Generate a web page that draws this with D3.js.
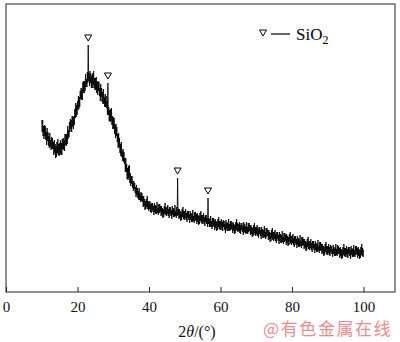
<!DOCTYPE html>
<html>
<head>
<meta charset="utf-8">
<script src="https://cdn.jsdelivr.net/npm/d3@7/dist/d3.min.js"></script>
<style>
  html, body { margin: 0; padding: 0; background: #fff; }
  svg { display: block; }
</style>
</head>
<body>
<script>
// XRD scan: 2θ from 10° to 100°, step 0.125°
const angleStart = 10, angleStep = 0.125;

// Measured intensity (a.u.), eight readings per degree
const intensity = [
  172,160,172,156,166,153,167,156, 166,152,160,147,164,151,160,146, // 10-11
  156,144,159,145,152,142,155,143, 154,143,150,137,152,139,148,134, // 12-13
  146,135,150,139,153,137,148,136, 149,138,152,137,149,137,153,143, // 14-15
  154,142,152,141,158,147,158,146, 158,148,166,153,162,155,170,160, // 16-17
  173,163,172,160,176,165,175,163, 176,167,183,174,189,175,187,177, // 18-19
  191,182,196,183,195,185,201,193, 204,192,203,192,210,199,211,199, // 20-21
  211,201,218,205,213,205,220,209, 247,211,219,206,221,209,218,204, // 22-23
  216,204,219,207,221,204,214,202, 214,202,215,199,210,197,211,201, // 24-25
  210,196,204,191,208,195,204,190, 200,188,203,188,195,185,198,185, // 26-27
  196,184,191,177,209,177,185,171, 182,170,183,171,184,167,176,163, // 28-29
  175,163,174,158,168,154,168,156, 165,150,158,144,159,145,154,139, // 30-31
  148,136,150,135,141,131,143,130, 140,128,134,120,134,120,128,113, // 32-33
  124,112,126,114,127,109,119,106, 116,108,116,104,111,101,111,103, // 34-35
  109,99,105,95,107,97,104,94,     101,92,104,92,98,90,100,91,      // 36-37
  99,90,96,85,96,86,93,82,         91,83,93,85,96,83,91,81,         // 38-39
  90,83,91,80,88,79,89,82,         89,80,86,77,89,80,87,78,         // 40-41
  86,78,90,79,84,77,88,79,         88,80,86,76,86,77,84,74,         // 42-43
  83,75,86,78,89,77,85,76,         85,78,87,76,83,74,85,78,         // 44-45
  85,76,82,73,86,77,84,75,         83,75,87,76,81,74,85,76,         // 46-47
  114,77,83,73,83,74,81,71,        80,72,83,75,85,73,81,72,         // 48-49
  81,74,83,72,79,70,81,74,         81,72,78,69,81,72,79,70,         // 50-51
  78,70,82,71,76,69,80,71,         80,72,78,68,79,70,77,67,         // 52-53
  76,68,79,71,81,69,77,68,         77,70,79,68,75,66,77,70,         // 54-55
  77,68,74,65,94,68,74,65,         73,65,76,65,71,63,74,65,         // 56-57
  74,66,72,62,73,64,71,61,         70,62,73,65,75,63,71,62,         // 58-59
  71,64,73,62,70,61,72,65,         71,62,68,59,72,63,70,61,         // 60-61
  69,61,73,62,68,61,71,62,         71,63,69,59,70,61,68,58,         // 62-63
  67,59,70,62,73,61,69,60,         68,61,70,59,67,58,69,62,         // 64-65
  69,60,66,57,70,60,68,59,         66,58,70,59,65,58,69,60,         // 66-67
  69,61,67,57,67,58,65,55,         64,56,67,59,69,57,65,56,         // 68-69
  65,58,67,56,63,54,65,58,         65,56,62,53,65,56,63,54,         // 70-71
  62,54,66,55,60,53,64,55,         64,56,62,52,62,53,60,50,         // 72-73
  59,51,62,54,64,52,60,51,         60,53,62,51,58,49,60,53,         // 74-75
  60,51,57,48,60,51,58,49,         57,49,61,50,55,48,59,50,         // 76-77
  59,51,57,47,58,49,56,46,         55,47,58,50,60,48,56,47,         // 78-79
  56,49,58,47,54,45,56,49,         56,47,53,44,56,47,54,45,         // 80-81
  53,45,57,46,51,44,55,46,         55,47,53,43,53,44,51,41,         // 82-83
  50,42,53,45,55,43,51,42,         51,44,53,42,49,40,51,44,         // 84-85
  51,42,48,39,51,42,49,40,         48,40,52,41,46,39,50,41,         // 86-87
  50,42,48,38,48,39,46,36,         45,37,48,40,50,38,46,37,         // 88-89
  46,39,48,37,45,36,47,40,         46,38,43,35,47,38,45,36,         // 90-91
  44,36,48,37,43,36,47,38,         46,38,44,34,45,36,43,33,         // 92-93
  42,34,45,37,48,36,44,35,         44,37,46,35,43,34,45,38,         // 94-95
  45,36,42,33,46,37,44,35,         43,35,47,36,42,35,46,37,         // 96-97
  46,38,44,34,45,36,43,33,         42,34,45,37,48,36,44,35,         // 98-99
  42                                                                // 100
];

// Indexed SiO2 reflections (2θ, °)
const sio2Peaks = [23, 28.5, 48, 56.5];

const xTicks = [0, 20, 40, 60, 80, 100];
const xDomain = [0, 108.8];
const yDomain = [0, 288];

const W = 400, H = 342;
const plot = { left: 6, top: 4, right: 395, bottom: 292 };
const serif = "'Liberation Serif', 'Times New Roman', Times, serif";

const svg = d3.select("body").append("svg")
  .attr("width", W).attr("height", H);

const x = d3.scaleLinear().domain(xDomain).range([plot.left, plot.right]);
const y = d3.scaleLinear().domain(yDomain).range([plot.bottom, plot.top]);

const points = intensity.map((v, i) => ({ a: angleStart + i * angleStep, v }));

// frame
svg.append("rect")
  .attr("x", plot.left).attr("y", plot.top)
  .attr("width", plot.right - plot.left).attr("height", plot.bottom - plot.top)
  .attr("fill", "none").attr("stroke", "#222").attr("stroke-width", 1);

// pattern trace
svg.append("path")
  .datum(points)
  .attr("fill", "none")
  .attr("stroke", "#000")
  .attr("stroke-width", 0.85)
  .attr("stroke-linejoin", "miter")
  .attr("d", d3.line().x(d => x(d.a)).y(d => y(d.v)));

// bottom axis with inward ticks
const xAxis = d3.axisBottom(x).tickValues(xTicks).tickSize(-5).tickPadding(9)
  .tickFormat(d3.format("d"));
const gx = svg.append("g").attr("transform", `translate(0,${plot.bottom})`).call(xAxis);
gx.select(".domain").remove();
gx.selectAll(".tick line").attr("stroke", "#222");
gx.selectAll(".tick text")
  .style("font-family", serif)
  .style("font-size", "15px").attr("fill", "#111");

// open triangle marker pointing down
const tri = (cx, cy) => `M${cx - 3.5},${cy - 3} L${cx + 3.5},${cy - 3} L${cx},${cy + 3} Z`;

const peakValue = a => intensity[Math.round((a - angleStart) / angleStep)];
svg.selectAll(".peak-mark")
  .data(sio2Peaks)
  .enter().append("path")
  .attr("class", "peak-mark")
  .attr("d", a => tri(x(a), y(peakValue(a)) - 7))
  .attr("fill", "#fff").attr("stroke", "#000").attr("stroke-width", 1);

// legend
const lg = svg.append("g");
lg.append("path").attr("d", tri(263, 33)).attr("fill", "#fff")
  .attr("stroke", "#000").attr("stroke-width", 1);
lg.append("line").attr("x1", 271).attr("x2", 290).attr("y1", 34).attr("y2", 34)
  .attr("stroke", "#000").attr("stroke-width", 1.2);
const lt = lg.append("text").attr("x", 296).attr("y", 40)
  .style("font-family", serif)
  .style("font-size", "17px").attr("fill", "#000");
lt.append("tspan").text("SiO");
lt.append("tspan").style("font-size", "12px").attr("dy", 4).text("2");

// axis title
const xt = svg.append("text").attr("x", 197).attr("y", 337)
  .attr("text-anchor", "middle")
  .style("font-family", serif)
  .style("font-size", "16px").attr("fill", "#111");
xt.append("tspan").text("2");
xt.append("tspan").style("font-style", "italic").text("θ");
xt.append("tspan").text("/(°)");

// watermark
svg.append("text").attr("x", 263).attr("y", 335)
  .style("font-family", "'Noto Sans CJK SC', sans-serif")
  .style("font-size", "17px").style("letter-spacing", "1.6px")
  .attr("fill", "#f08a8f")
  .text("@有色金属在线");
</script>
</body>
</html>
